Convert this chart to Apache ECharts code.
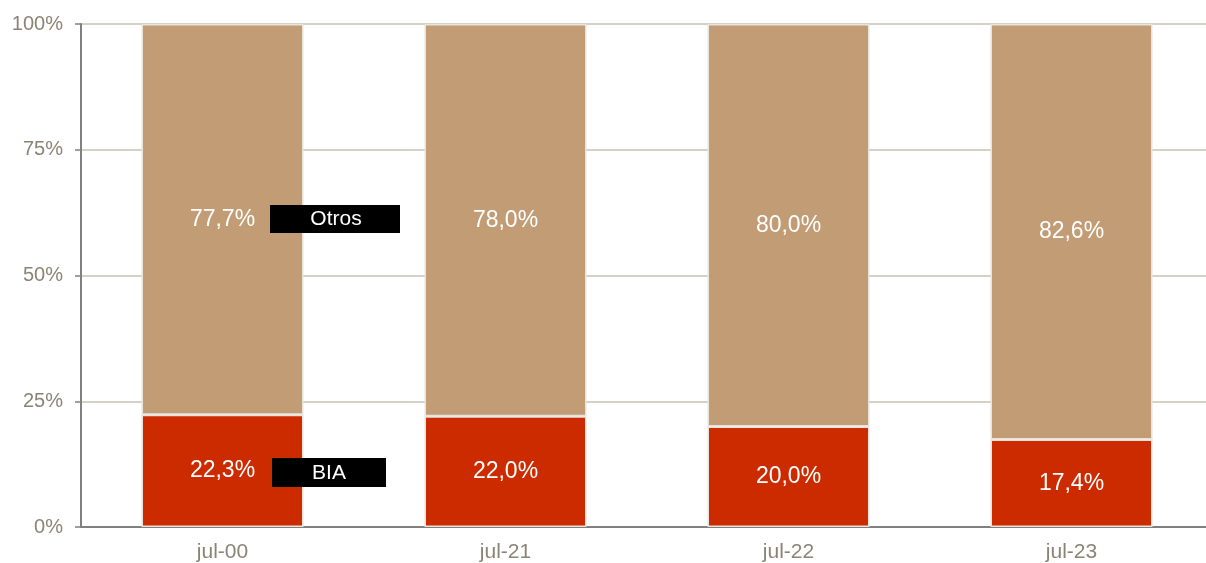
<!DOCTYPE html>
<html><head><meta charset="utf-8">
<script src="https://cdn.jsdelivr.net/npm/echarts@6/dist/echarts.min.js"></script>
<style>html,body{margin:0;padding:0;background:#fff}#c{width:1206px;height:563px}</style>
</head><body><div id="c"></div>
<script>
const categories = ['jul-00', 'jul-21', 'jul-22', 'jul-23'];
const bia = [22.3, 22.0, 20.0, 17.4];
const otros = [77.7, 78.0, 80.0, 82.6];
const yTicks = [0, 25, 50, 75, 100];

const chart = echarts.init(document.getElementById('c'));
const fmt = p => p.value.toFixed(1).replace('.', ',') + '%';
const FF = 'Liberation Sans, Arial';
const lbl = {show: true, position: 'inside', color: '#fff', fontSize: 23, fontFamily: FF, formatter: fmt};
chart.setOption({
  animation: false,
  grid: {left: 81, top: 24, height: 503, width: 1132, containLabel: false, outerBoundsMode: 'none'},
  xAxis: {
    type: 'category', data: categories,
    axisLine: {lineStyle: {color: '#808080', width: 2}},
    axisTick: {show: false},
    axisLabel: {color: '#8a8474', fontSize: 21, fontFamily: FF, margin: 15}
  },
  yAxis: {
    type: 'value', min: 0, max: 100, interval: 25,
    axisLine: {show: true, lineStyle: {color: '#808080', width: 2}},
    axisTick: {show: true, length: 6, lineStyle: {color: '#808080', width: 1.5}},
    splitLine: {lineStyle: {color: '#c6c2b4', width: 1.5}},
    axisLabel: {color: '#8a8474', fontSize: 20, fontFamily: FF, margin: 18,
      formatter: v => yTicks.includes(v) ? v + '%' : ''}
  },
  series: [
    {name: 'BIA', type: 'bar', stack: 's', data: bia, barWidth: 162,
     itemStyle: {color: '#cc2b00', borderColor: '#e8e4dc', borderWidth: 1.5}, label: lbl},
    {name: 'Otros', type: 'bar', stack: 's', data: otros, barWidth: 162,
     itemStyle: {color: '#c19c74', borderColor: '#e8e4dc', borderWidth: 1.5}, label: lbl}
  ],
  graphic: [
    {type: 'rect', z: 100, left: 270, top: 205, shape: {width: 130, height: 28}, style: {fill: '#000'}},
    {type: 'text', z: 101, x: 336, y: 219, style: {text: 'Otros', fill: '#fff', fontSize: 21, fontFamily: FF, align: 'center', verticalAlign: 'middle'}},
    {type: 'rect', z: 100, left: 272, top: 458, shape: {width: 114, height: 29}, style: {fill: '#000'}},
    {type: 'text', z: 101, x: 329, y: 473, style: {text: 'BIA', fill: '#fff', fontSize: 21, fontFamily: FF, align: 'center', verticalAlign: 'middle'}}
  ]
});
</script></body></html>
